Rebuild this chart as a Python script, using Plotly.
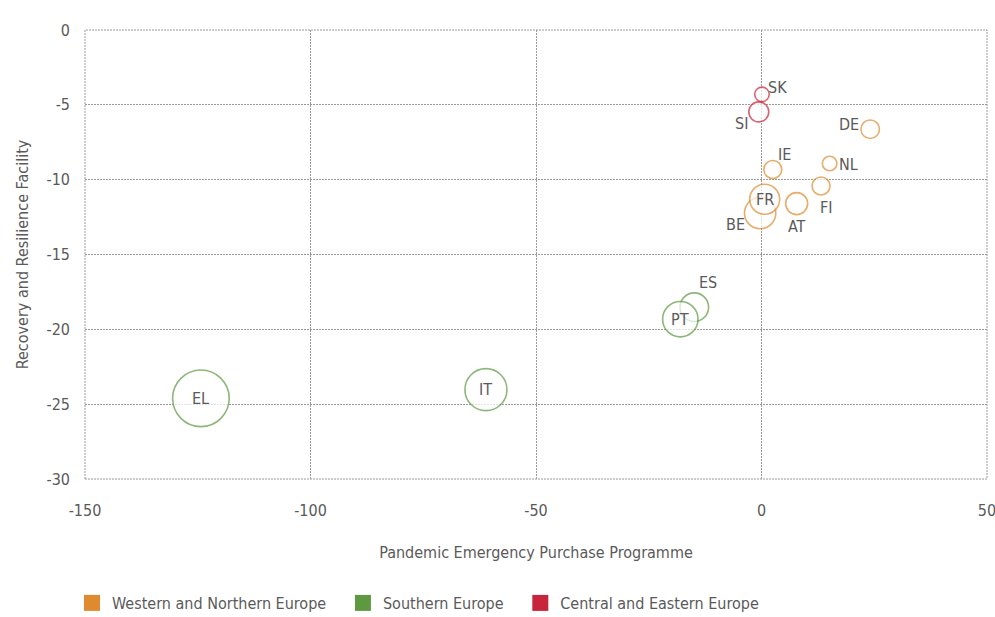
import plotly.graph_objects as go

# ---- data ----
countries = ["SK", "SI", "DE", "IE", "NL", "FI", "AT", "BE", "FR", "ES", "PT", "IT", "EL"]
regions = ["Central and Eastern Europe", "Central and Eastern Europe",
           "Western and Northern Europe", "Western and Northern Europe",
           "Western and Northern Europe", "Western and Northern Europe",
           "Western and Northern Europe", "Western and Northern Europe",
           "Western and Northern Europe", "Southern Europe", "Southern Europe",
           "Southern Europe", "Southern Europe"]
pepp = [0.1, -0.6, 24.1, 2.5, 15.1, 13.2, 7.8, -0.3, 0.7, -14.9, -18.0, -61.1, -124.3]
rrf = [-4.30, -5.47, -6.63, -9.32, -8.92, -10.42, -11.60, -12.23, -11.31, -18.52, -19.32, -24.03, -24.61]
bubble = [53, 100, 86, 81, 53, 81, 121, 246, 225, 204, 313, 441, 801]

legend_order = ["Western and Northern Europe", "Southern Europe", "Central and Eastern Europe"]
x_ticks = [-150, -100, -50, 0, 50]
y_ticks = [0, -5, -10, -15, -20, -25, -30]

# ---- style ----
colors = {"Western and Northern Europe": "#DF8A2E",
          "Southern Europe": "#5E9941",
          "Central and Eastern Europe": "#C8243B"}
FONT = "DejaVu Sans Condensed, Roboto, sans-serif"
TXT = "#5a5a5a"
GRID = "#9a9a9a"
DASH = "2px,1px"
PAD = "\u2002\u00a0"  # extra spacing after legend entries
# label offsets (px, dx right, dy down); None -> centred inside bubble
label_off = {"SK": (16, -7), "SI": (-17, 12), "DE": (-21, -5), "IE": (12, -15),
             "NL": (19, 1), "FI": (5, 22), "AT": (0, 23), "BE": (-25, 11),
             "ES": (14, -25), "FR": None, "PT": None, "IT": None, "EL": None}

fig = go.Figure()

for reg in ["Central and Eastern Europe", "Western and Northern Europe", "Southern Europe"]:
    idx = [i for i, r in enumerate(regions) if r == reg]
    fig.add_trace(go.Scatter(
        x=[pepp[i] for i in idx], y=[rrf[i] for i in idx],
        mode="markers",
        marker=dict(size=[bubble[i] for i in idx], sizemode="area", sizeref=0.5,
                    color="white", line=dict(color=colors[reg], width=1.6)),
        showlegend=False, hoverinfo="skip"))

for k, reg in enumerate(legend_order):
    fig.add_trace(go.Scatter(
        x=[None], y=[None], mode="markers",
        name=reg + (PAD if k < len(legend_order) - 1 else ""),
        marker=dict(symbol="square", size=16, color=colors[reg])))

for i, c in enumerate(countries):
    off = label_off[c]
    dx, dy = (0, 0) if off is None else off
    fig.add_annotation(x=pepp[i], y=rrf[i], text=c, showarrow=False,
                       xshift=dx, yshift=-dy,
                       font=dict(family=FONT, size=16, color=TXT))

fig.update_xaxes(range=[-150, 50], tickvals=x_ticks, ticktext=[str(v) for v in x_ticks],
                 showgrid=True, gridcolor=GRID, griddash=DASH, gridwidth=1,
                 zeroline=False, showline=False, ticks="", automargin=False,
                 ticklabelstandoff=20, ticklabeloverflow="allow",
                 tickfont=dict(family=FONT, size=16, color=TXT),
                 title=dict(text="Pandemic Emergency Purchase Programme", standoff=27,
                            font=dict(family=FONT, size=16, color=TXT)))
fig.update_yaxes(range=[-30, 0], tickvals=y_ticks, ticktext=[str(v) for v in y_ticks],
                 showgrid=True, gridcolor=GRID, griddash=DASH, gridwidth=1,
                 zeroline=False, showline=False, ticks="", automargin=False,
                 ticklabelstandoff=14, ticklabeloverflow="allow",
                 tickfont=dict(family=FONT, size=16, color=TXT),
                 title=dict(text="Recovery and Resilience Facility", standoff=13,
                            font=dict(family=FONT, size=16, color=TXT)))

fig.add_shape(type="rect", xref="paper", yref="paper", x0=0, y0=0, x1=1, y1=1,
              line=dict(color=GRID, width=1, dash=DASH), layer="below")

fig.update_layout(
    width=995, height=617,
    margin=dict(l=85, r=8, t=30, b=138, autoexpand=False),
    plot_bgcolor="white", paper_bgcolor="white",
    font=dict(family=FONT, color=TXT),
    legend=dict(orientation="h", xref="container", x=72 / 995, xanchor="left",
                yref="container", y=1 - 603 / 617, yanchor="middle",
                font=dict(family=FONT, size=16, color=TXT), itemclick=False),
)

fig.write_html("out.html", config={"displayModeBar": False},
               post_script="document.body.style.margin='0';document.body.style.overflow='hidden';")
